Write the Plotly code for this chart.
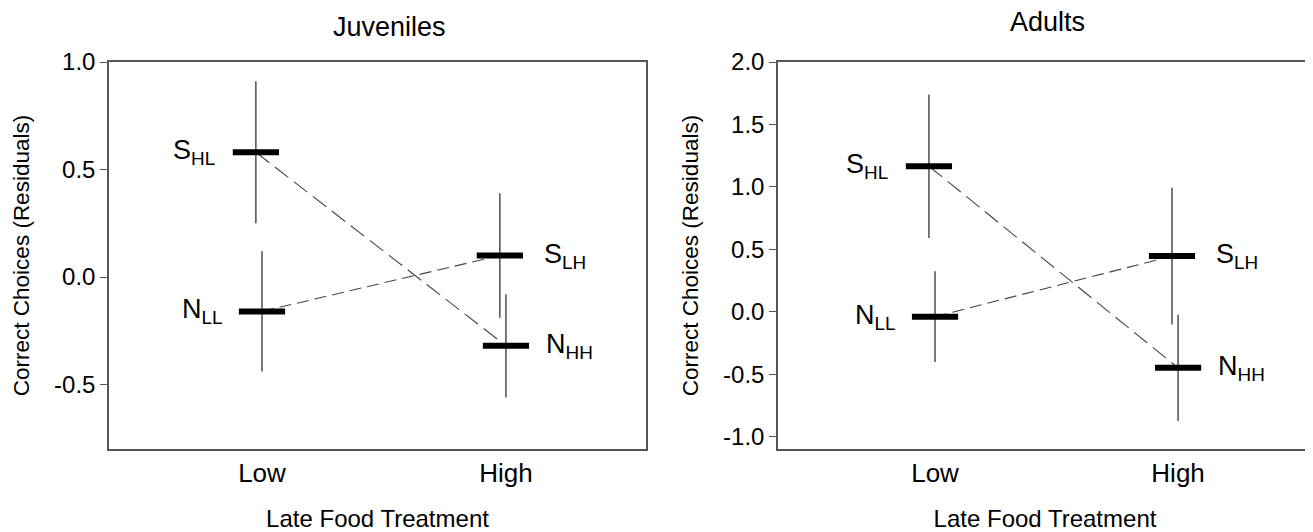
import plotly.graph_objects as go

# ---- data ----
categories = ["Low", "High"]
panels = ["Juveniles", "Adults"]

# Juveniles
juv_S = [0.58, 0.10]          # S_HL (Low), S_LH (High)
juv_S_err = [0.33, 0.29]
juv_N = [-0.16, -0.32]        # N_LL (Low), N_HH (High)
juv_N_err = [0.28, 0.24]

# Adults
ad_S = [1.165, 0.445]
ad_S_err = [0.575, 0.547]
ad_N = [-0.04, -0.45]
ad_N_err = [0.363, 0.425]

S_labels = ["S<sub>HL</sub>", "S<sub>LH</sub>"]
N_labels = ["N<sub>LL</sub>", "N<sub>HH</sub>"]

juv_ticks = [-0.5, 0.0, 0.5, 1.0]
juv_ticktext = ["-0.5", "0.0", "0.5", "1.0"]
ad_ticks = [-1.0, -0.5, 0.0, 0.5, 1.0, 1.5, 2.0]
ad_ticktext = ["-1.0", "-0.5", "0.0", "0.5", "1.0", "1.5", "2.0"]

FONT = "Liberation Sans, Arial, sans-serif"
# page body has an 8px margin; figure sized to end at the window edge
OFF = 8
W, H = 1313 - OFF, 532 - OFF

def px(v):   # window x -> paper fraction
    return (v - OFF) / W

def py(v):   # window y -> paper fraction
    return 1 - (v - OFF) / H

fig = go.Figure()

cat_pos = [1, 2]
S_off = -0.025
N_off = 0.0

def add_panel(S, S_err, N, N_err, xa, ya):
    xs = [p + S_off for p in cat_pos]
    xn = [p + N_off for p in cat_pos]
    # dashed connecting lines: S_HL -> N_HH, N_LL -> S_LH
    fig.add_trace(go.Scatter(x=[xs[0], xn[1]], y=[S[0], N[1]], mode="lines",
                             line=dict(color="#444", width=1.1, dash="17px,7px"),
                             xaxis=xa, yaxis=ya, showlegend=False, hoverinfo="skip"))
    fig.add_trace(go.Scatter(x=[xn[0], xs[1]], y=[N[0], S[1]], mode="lines",
                             line=dict(color="#444", width=1.1, dash="12px,6px"),
                             xaxis=xa, yaxis=ya, showlegend=False, hoverinfo="skip"))
    for xx, yy, ee in [(xs, S, S_err), (xn, N, N_err)]:
        fig.add_trace(go.Scatter(
            x=xx, y=yy, mode="markers",
            marker=dict(symbol="line-ew", size=33, color="black",
                        line=dict(color="black", width=6)),
            error_y=dict(type="data", array=ee, visible=True, width=0,
                         thickness=1.2, color="#222"),
            xaxis=xa, yaxis=ya, showlegend=False))
    for i in range(2):
        right = (i == 1)
        fig.add_annotation(x=xs[i], y=S[i], xref=xa, yref=ya, text=S_labels[i],
                           showarrow=False, xanchor="left" if right else "right",
                           xshift=42 if right else -39,
                           font=dict(family=FONT, size=27, color="black"))
        fig.add_annotation(x=xn[i], y=N[i], xref=xa, yref=ya, text=N_labels[i],
                           showarrow=False, xanchor="left" if right else "right",
                           xshift=38 if right else -37,
                           font=dict(family=FONT, size=27, color="black"))

add_panel(juv_S, juv_S_err, juv_N, juv_N_err, "x", "y")
add_panel(ad_S, ad_S_err, ad_N, ad_N_err, "x2", "y2")

ydom = [py(449), py(62)]
axis_common = dict(showgrid=False, zeroline=False, showline=True, mirror=True,
                   linecolor="#555", linewidth=1.5, automargin=False)

xcommon = dict(axis_common, tickvals=cat_pos, ticktext=categories, ticks="",
               ticklabelstandoff=0,
               tickfont=dict(family=FONT, size=26, color="black"),
               title=dict(text="Late Food Treatment", standoff=24,
                          font=dict(family=FONT, size=24, color="black")))
ycommon = dict(axis_common, ticks="outside", ticklen=7, tickcolor="#555", tickwidth=1.2,
               tickfont=dict(family=FONT, size=24, color="black"),
               title=dict(text="Correct Choices (Residuals)", standoff=18,
                          font=dict(family=FONT, size=22.5, color="black")))

fig.update_layout(
    template="none",
    width=W, height=H,
    margin=dict(l=0, r=0, t=0, b=0, autoexpand=False),
    paper_bgcolor="white", plot_bgcolor="white",
    xaxis=dict(xcommon, domain=[px(109), px(646)], range=[0.373, 2.574], anchor="y"),
    yaxis=dict(ycommon, domain=ydom, range=[-0.8, 1.0], tickvals=juv_ticks,
               ticktext=juv_ticktext, anchor="x"),
    xaxis2=dict(xcommon, domain=[px(778), px(1312)], range=[0.354, 2.551], anchor="y2"),
    yaxis2=dict(ycommon, domain=ydom, range=[-1.1, 2.0], tickvals=ad_ticks,
                ticktext=ad_ticktext, anchor="x2"),
)

# panel titles
fig.add_annotation(x=px(389), y=py(27), xref="paper", yref="paper",
                   xanchor="center", yanchor="middle",
                   text=panels[0], showarrow=False,
                   font=dict(family=FONT, size=27, color="black"))
fig.add_annotation(x=px(1047), y=py(22), xref="paper", yref="paper",
                   xanchor="center", yanchor="middle",
                   text=panels[1], showarrow=False,
                   font=dict(family=FONT, size=27, color="black"))

fig.write_html("out.html")
